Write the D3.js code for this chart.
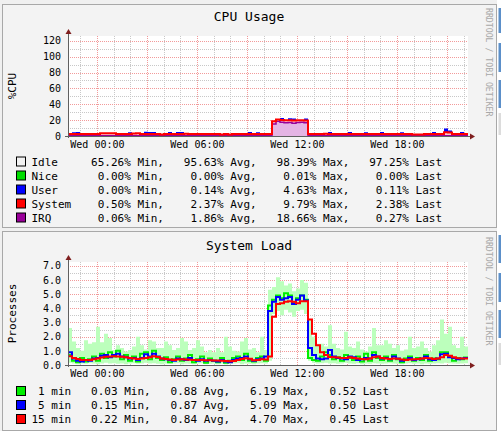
<!DOCTYPE html>
<html>
<head>
<meta charset="utf-8">
<script src="https://cdn.jsdelivr.net/npm/d3@7"></script>
<style>
  body { margin: 0; background: #fff; }
  svg text { font-family: "DejaVu Sans Mono", monospace; }
</style>
</head>
<body>
<script>
// 24h window, 100 consolidated samples (one every 14.4 min)
const binCount = 100
const startTime = new Date(2008, 2, 18, 22, 16)
const endTime = new Date(2008, 2, 19, 22, 16)

// ---- CPU usage (percent), stacked irq -> system -> user -> nice
const cpuIrq = [
  0.3,0.3,0.25,0.3,0.3,0.3,0.25,0.3,0.3,0.3,
  0.3,0.25,0.3,0.3,0.3,0.3,0.3,0.25,0.3,0.3,
  0.3,0.3,0.25,0.3,0.3,0.3,0.3,0.3,0.25,0.3,
  0.3,0.3,0.3,0.25,0.3,0.3,0.3,0.3,0.3,0.3,
  0.25,0.3,0.3,0.3,0.3,0.3,0.3,0.25,0.3,0.3,
  0.3,15.2,18.6,17.4,16.8,17.1,16.2,16.9,17.3,16.6,
  0.3,0.25,0.3,0.3,0.3,0.3,0.3,0.25,0.3,0.3,
  0.3,0.3,0.25,0.3,0.3,0.3,0.3,0.3,0.25,0.3,
  0.3,0.3,0.3,0.25,0.3,0.3,0.3,0.3,0.3,0.3,
  0.25,0.3,0.3,0.3,0.3,0.3,0.3,0.25,0.3,0.27
]
const cpuSystem = [
  2.2,2.2,2.3,2.2,2.2,2.3,2.2,2.2,3.2,3.3,
  3.2,3.1,2.2,2.3,2.2,2.2,3.0,3.1,2.2,2.3,
  2.2,2.3,2.2,1.6,2.2,2.3,2.2,2.3,2.2,2.4,
  2.3,2.2,2.2,2.3,2.2,2.3,2.2,2.2,1.5,2.3,
  1.6,2.2,2.3,2.2,2.3,2.2,2.2,2.3,2.2,2.2,
  2.3,3.5,2.2,2.8,3.2,2.6,3.4,2.9,2.7,3.0,
  2.3,2.2,2.3,2.2,2.4,2.3,2.2,2.3,2.2,2.3,
  2.2,2.3,2.2,2.3,2.2,2.2,2.3,2.2,2.3,2.2,
  2.3,2.2,2.3,2.2,2.2,2.3,1.6,1.5,1.7,2.2,
  2.3,2.2,2.3,2.2,4.4,4.2,2.3,2.2,2.3,2.38
]
const cpuUser = [
  0.05,2.3,2.5,0.05,0.05,0.05,0.05,0.05,0.05,0.05,
  0.05,0.05,0.05,0.05,0.05,2.2,0.05,0.05,0.05,2.6,
  2.5,2.3,0.05,0.05,0.05,2.4,0.05,2.3,2.5,0.05,
  0.05,0.05,0.05,0.05,0.05,0.05,0.05,0.05,0.05,0.05,
  0.05,0.05,0.05,0.05,0.05,2.5,0.05,2.2,0.05,0.05,
  0.05,0.05,0.05,2.4,0.05,2.8,2.6,0.05,0.05,2.4,
  0.05,0.05,0.05,0.05,0.05,2.3,0.05,0.05,0.05,0.05,
  2.4,0.05,0.05,0.05,2.3,0.05,0.05,0.05,2.5,0.05,
  0.05,0.05,0.05,2.3,0.05,0.05,0.05,0.05,0.05,0.05,
  0.05,2.4,0.05,0.05,4.6,2.5,0.05,0.05,2.3,0.11
]
const cpuNice = [
  0,0,0,0,0,0,0,0,0,0,
  0,0,0,0,0,0,0,0,0,0,
  0,0,0,0,0,0,0,0,0,0,
  0,0,0,0,0,0,0,0,0,0,
  0,0,0,0,0,0,0,0,0,0,
  0,0,0,0.01,0,0,0,0,0,0,
  0,0,0,0,0,0,0,0,0,0,
  0,0,0,0,0,0,0,0,0,0,
  0,0,0,0,0,0,0,0,0,0,
  0,0,0,0,0,0,0,0,0,0
]
const cpuLabels = ['Idle', 'Nice', 'User', 'System', 'IRQ']
const cpuMin = [65.26, 0.00, 0.00, 0.50, 0.06]
const cpuAvg = [95.63, 0.00, 0.14, 2.37, 1.86]
const cpuMax = [98.39, 0.01, 4.63, 9.79, 18.66]
const cpuLast = [97.25, 0.00, 0.11, 2.38, 0.27]
const cpuTicks = [0, 20, 40, 60, 80, 100, 120]

// ---- System load (processes)
const load1 = [
  0.7,0.3,0.2,0.5,0.25,0.4,0.6,0.3,0.8,0.5,
  0.9,0.6,1.0,0.4,0.7,0.3,0.6,0.25,0.8,0.9,
  0.4,1.0,0.5,0.35,0.55,0.2,0.4,0.6,0.3,0.45,
  0.7,0.2,0.4,0.6,0.15,0.45,0.3,0.2,0.5,0.15,
  0.3,0.5,0.6,0.35,0.8,0.3,0.25,0.5,0.6,0.3,
  4.2,4.6,4.9,4.7,5.05,4.9,4.4,4.7,4.9,4.6,
  0.5,0.35,0.3,0.6,0.9,0.7,0.4,0.55,0.3,0.7,
  0.5,0.35,0.6,0.25,0.8,0.3,0.9,0.5,0.35,0.6,
  0.3,0.7,0.4,0.2,0.45,0.6,0.3,0.5,0.35,0.7,
  0.3,0.45,0.4,0.9,0.9,0.6,0.3,0.5,0.4,0.52
]
const load5 = [
  0.9,0.45,0.3,0.25,0.35,0.3,0.45,0.5,0.65,0.7,
  0.55,0.7,0.8,0.6,0.55,0.45,0.5,0.35,0.5,0.75,
  0.6,0.8,0.6,0.45,0.4,0.35,0.3,0.45,0.4,0.35,
  0.5,0.35,0.3,0.4,0.3,0.35,0.3,0.25,0.35,0.25,
  0.2,0.35,0.45,0.5,0.6,0.4,0.3,0.4,0.45,0.6,
  3.8,4.45,4.8,4.6,4.7,4.8,4.3,4.6,4.9,4.55,
  1.2,0.7,0.45,0.4,0.45,1.05,0.6,0.5,0.45,0.4,
  0.6,0.55,0.35,0.4,0.5,0.45,0.7,0.6,0.45,0.5,
  0.4,0.6,0.45,0.3,0.35,0.5,0.35,0.4,0.45,0.6,
  0.4,0.35,0.45,0.75,0.8,0.55,0.5,0.4,0.45,0.5
]
const load15 = [
  0.62,0.5,0.42,0.36,0.35,0.36,0.4,0.45,0.52,0.58,
  0.6,0.62,0.6,0.58,0.55,0.5,0.46,0.42,0.45,0.5,
  0.55,0.62,0.56,0.46,0.42,0.38,0.36,0.38,0.4,0.38,
  0.37,0.36,0.35,0.36,0.34,0.33,0.32,0.31,0.3,0.28,
  0.27,0.29,0.36,0.42,0.48,0.44,0.34,0.36,0.4,0.38,
  0.6,3.4,4.3,4.35,4.45,4.5,4.45,4.35,4.5,4.5,
  3.2,2.2,1.4,0.9,0.7,0.56,0.55,0.52,0.5,0.5,
  0.55,0.5,0.45,0.42,0.4,0.45,0.55,0.6,0.5,0.45,
  0.42,0.45,0.44,0.38,0.35,0.38,0.4,0.42,0.45,0.5,
  0.48,0.42,0.45,0.55,0.7,0.65,0.55,0.48,0.45,0.45
]
// light green band: spread of the 1 min load inside each sample
const load1Low = [
  0.15,0.1,0.05,0.1,0.08,0.12,0.1,0.05,0.1,0.15,
  0.1,0.12,0.08,0.1,0.05,0.1,0.12,0.08,0.1,0.15,
  0.1,0.12,0.08,0.05,0.1,0.08,0.1,0.12,0.05,0.1,
  0.08,0.05,0.1,0.12,0.05,0.08,0.1,0.05,0.1,0.03,
  0.08,0.1,0.12,0.05,0.1,0.08,0.05,0.1,0.12,0.1,
  0.3,3.6,3.8,3.5,3.9,3.7,3.4,3.8,3.9,3.6,
  0.3,0.15,0.1,0.12,0.15,0.1,0.12,0.08,0.1,0.15,
  0.1,0.08,0.12,0.05,0.1,0.08,0.12,0.1,0.08,0.1,
  0.12,0.1,0.08,0.05,0.1,0.12,0.08,0.1,0.05,0.1,
  0.08,0.1,0.12,0.1,0.15,0.12,0.1,0.08,0.1,0.12
]
const load1High = [
  2.6,1.65,1.2,1.0,1.75,1.5,1.6,2.7,1.6,2.2,
  1.9,1.05,1.4,1.2,0.95,1.05,1.3,2.0,1.4,1.1,
  1.75,1.65,1.2,1.2,1.65,1.4,1.05,1.2,1.9,1.65,
  1.05,1.2,1.75,1.3,0.9,1.05,0.9,1.2,0.9,2.0,
  1.3,1.0,0.95,1.65,1.9,1.1,1.2,0.9,2.0,1.05,
  5.3,5.5,6.19,5.9,5.6,5.75,5.2,5.4,6.0,5.8,
  3.2,2.0,1.5,1.5,1.3,2.8,1.5,1.2,1.1,2.35,
  1.3,1.2,1.65,1.1,0.95,1.3,2.6,1.4,1.4,1.75,
  1.5,1.2,1.4,1.0,1.1,2.0,1.2,1.3,1.65,1.2,
  0.95,1.4,1.75,3.2,2.2,2.7,1.4,1.2,2.0,1.3
]
const loadLabels = ['1 min', '5 min', '15 min']
const loadMin = [0.03, 0.15, 0.22]
const loadAvg = [0.88, 0.87, 0.84]
const loadMax = [6.19, 5.09, 4.70]
const loadLast = [0.52, 0.50, 0.45]
const loadTicks = [0, 1, 2, 3, 4, 5, 6, 7]

const cpuColors = ['#f2f2f2', '#00dd00', '#0000ff', '#ff0000', '#990099']
const loadColors = ['#00ee00', '#0000ff', '#ff0000']

let stepMs = (endTime - startTime) / binCount
let times = d3.range(binCount).map(i => new Date(+startTime + i * stepMs))
// extra end point so the last step reaches the right edge
let edgeTimes = times.concat([endTime])
const at = (arr, i) => arr[Math.min(i, binCount - 1)]

let plotLeft = 68, plotRight = 468
const x = d3.scaleTime().domain([startTime, endTime]).range([plotLeft, plotRight])

const svg = d3.select('body').append('svg').attr('width', 501).attr('height', 435)

// page background + the two image frames
svg.append('rect').attr('width', 497).attr('height', 431).attr('fill', '#f0f0f0')
svg.append('rect').attr('x', 2.5).attr('y', 4.5).attr('width', 494).attr('height', 223)
  .attr('fill', '#f3f3f3').attr('stroke', '#a8a8a8')
svg.append('rect').attr('x', 2.5).attr('y', 231.5).attr('width', 494).attr('height', 199)
  .attr('fill', '#f3f3f3').attr('stroke', '#a8a8a8')
// bits of the page on the right
const sideBits = [[8, 33, '#5b8fc9'], [43, 72, '#5b8fc9'], [80, 108, '#5b8fc9'], [113, 135, '#dcdcdc'],
                  [235, 263, '#5b8fc9'], [273, 302, '#5b8fc9'], [310, 338, '#5b8fc9'], [343, 365, '#dcdcdc']]
svg.selectAll('.side').data(sideBits).enter().append('rect')
  .attr('x', 498.5).attr('width', 3).attr('y', d => d[0]).attr('height', d => d[1] - d[0]).attr('fill', d => d[2])

const drawFrame = (top, bottom, yMax, ticks, fmt, title, titleY, yLabel) => {
  const y = d3.scaleLinear().domain([0, yMax]).range([bottom, top])
  const g = svg.append('g')
  g.append('rect').attr('x', plotLeft).attr('y', top).attr('width', plotRight - plotLeft)
    .attr('height', bottom - top).attr('fill', '#fff')

  const px = v => Math.round(v) + 0.5
  const majorT = x.ticks(d3.timeHour.every(3))
  const minorT = x.ticks(d3.timeHour.every(1)).filter(t => t.getHours() % 3 !== 0)
  const step = ticks[1] - ticks[0]
  const minorY = ticks.map(t => t + step / 2).filter(v => v < yMax)

  const vline = (data, color) => g.selectAll(null).data(data).enter().append('line')
    .attr('x1', d => px(x(d))).attr('x2', d => px(x(d))).attr('y1', top).attr('y2', bottom)
    .attr('stroke', color).attr('stroke-dasharray', '1,1')
  const hline = (data, color) => g.selectAll(null).data(data).enter().append('line')
    .attr('x1', plotLeft).attr('x2', plotRight).attr('y1', d => px(y(d))).attr('y2', d => px(y(d)))
    .attr('stroke', color).attr('stroke-dasharray', '1,1')
  vline(minorT, '#c8c8c8')
  hline(minorY, '#c8c8c8')
  vline(majorT, '#f29a9a')
  hline(ticks.filter(t => t > 0), '#f29a9a')

  // tick labels
  const yAxis = g.append('g').attr('transform', `translate(${plotLeft},0)`)
    .call(d3.axisLeft(y).tickValues(ticks).tickSize(0).tickPadding(7).tickFormat(fmt))
  yAxis.select('.domain').remove()
  yAxis.selectAll('text').attr('font-family', 'DejaVu Sans Mono').attr('font-size', 10).attr('fill', '#000')

  const xAxis = g.append('g').attr('transform', `translate(0,${bottom})`)
    .call(d3.axisBottom(x).ticks(d3.timeHour.every(6)).tickSize(0).tickPadding(5)
      .tickFormat(d3.timeFormat('%a %H:%M')))
  xAxis.select('.domain').remove()
  xAxis.selectAll('text').attr('font-family', 'DejaVu Sans Mono').attr('font-size', 10).attr('fill', '#000')

  svg.append('text').attr('x', 249).attr('y', titleY).attr('text-anchor', 'middle')
    .attr('font-size', 13).text(title)
  svg.append('text').attr('transform', `translate(15.5,${(top + bottom) / 2}) rotate(-90)`)
    .attr('text-anchor', 'middle').attr('font-size', 11).text(yLabel)
  svg.append('text').attr('transform', `translate(485.5,${titleY - 13}) rotate(90)`)
    .attr('font-size', 8.2).attr('fill', '#a8a8a8').text('RRDTOOL / TOBI OETIKER')
  return y
}

const drawAxes = (top, bottom) => {
  const axisColor = '#606060', arrowColor = '#7f1f1f'
  svg.append('line').attr('x1', plotLeft + 0.5).attr('x2', plotLeft + 0.5).attr('y1', bottom + 2).attr('y2', top - 4)
    .attr('stroke', axisColor)
  svg.append('line').attr('x1', plotLeft - 3).attr('x2', plotRight + 3).attr('y1', bottom + 0.5).attr('y2', bottom + 0.5)
    .attr('stroke', axisColor)
  svg.append('path').attr('fill', arrowColor)
    .attr('d', `M${plotLeft - 2.5},${top - 2} L${plotLeft + 3.5},${top - 2} L${plotLeft + 0.5},${top - 7} Z`)
  svg.append('path').attr('fill', arrowColor)
    .attr('d', `M${plotRight + 2},${bottom - 2.5} L${plotRight + 2},${bottom + 3.5} L${plotRight + 7},${bottom + 0.5} Z`)
}

const legendRow = (yc, color, text) => {
  svg.append('rect').attr('x', 16.5).attr('y', yc - 4.5).attr('width', 9).attr('height', 9)
    .attr('fill', color).attr('stroke', '#000')
  svg.append('text').attr('x', 31.5).attr('y', yc + 4).attr('font-size', 11)
    .style('white-space', 'pre').text(text)
}

// ================= CPU usage =================
let cpuTop = 36, cpuBottom = 136
const yCpu = drawFrame(cpuTop, cpuBottom, 126, cpuTicks, d3.format('d'), 'CPU Usage', 21, '%CPU')

let cpuTable = edgeTimes.map((t, i) => ({
  t: t, irq: at(cpuIrq, i), system: at(cpuSystem, i), user: at(cpuUser, i), nice: at(cpuNice, i)
}))
let cpuStack = d3.stack().keys(['irq', 'system', 'user', 'nice'])(cpuTable)
const stackFills = ['#e4b4e4', '#ffc8d0', '#0000ff', '#00dd00']

const cpuArea = d3.area().curve(d3.curveStepAfter)
  .x(d => x(d.data.t)).y0(d => yCpu(d[0])).y1(d => yCpu(d[1]))
svg.selectAll('.cpu-area').data(cpuStack).enter().append('path')
  .attr('class', 'cpu-area').attr('d', cpuArea).attr('fill', (d, i) => stackFills[i])

const topLine = d3.line().curve(d3.curveStepAfter).x(d => x(d.data.t)).y(d => yCpu(d[1]))
svg.append('path').attr('d', topLine(cpuStack[0])).attr('fill', 'none')
  .attr('stroke', '#990099').attr('stroke-width', 1.5)
svg.append('path').attr('d', topLine(cpuStack[1])).attr('fill', 'none')
  .attr('stroke', '#ff0000').attr('stroke-width', 2)

drawAxes(cpuTop, cpuBottom)

const f2 = d3.format('.2f')
cpuLabels.forEach((lab, i) => {
  const txt = lab.padEnd(9) + f2(cpuMin[i]).padStart(5) + '% Min,   ' + f2(cpuAvg[i]).padStart(5) +
    '% Avg,   ' + f2(cpuMax[i]).padStart(5) + '% Max,   ' + f2(cpuLast[i]).padStart(5) + '% Last'
  legendRow(161.5 + i * 14, cpuColors[i], txt)
})

// ================= System load =================
let loadTop = 262, loadBottom = 365
const yLoad = drawFrame(loadTop, loadBottom, 7.26, loadTicks, d3.format('.1f'), 'System Load', 250, 'Processes')

const band = d3.area().curve(d3.curveStepAfter)
  .x((d, i) => x(edgeTimes[i])).y0((d, i) => yLoad(at(load1Low, i))).y1((d, i) => yLoad(at(load1High, i)))
svg.append('path').attr('d', band(edgeTimes)).attr('fill', '#bcffbc')

const loadLine = arr => d3.line().curve(d3.curveStepAfter)
  .x((d, i) => x(edgeTimes[i])).y((d, i) => yLoad(at(arr, i)))(edgeTimes)
const loadSeries = [load1, load5, load15]
loadSeries.forEach((arr, k) => {
  svg.append('path').attr('d', loadLine(arr)).attr('fill', 'none')
    .attr('stroke', loadColors[k]).attr('stroke-width', 2)
})

drawAxes(loadTop, loadBottom)

loadLabels.forEach((lab, i) => {
  const txt = lab.padStart(6) + '   ' + f2(loadMin[i]) + ' Min,   ' + f2(loadAvg[i]) + ' Avg,   ' +
    f2(loadMax[i]) + ' Max,   ' + f2(loadLast[i]) + ' Last'
  legendRow(391 + i * 14, loadColors[i], txt)
})
</script>
</body>
</html>
